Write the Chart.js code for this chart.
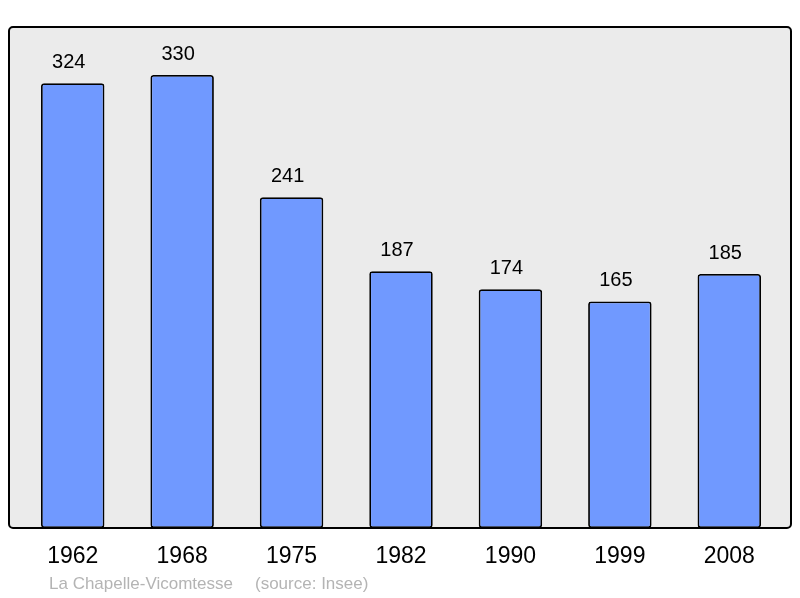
<!DOCTYPE html>
<html>
<head>
<meta charset="utf-8">
<script src="https://cdn.jsdelivr.net/npm/chart.js@4"></script>
<style>
  html, body { margin: 0; padding: 0; background: #fff; }
  canvas { display: block; }
</style>
</head>
<body>
<canvas id="chart" width="800" height="598"></canvas>
<script>
// données
const annees = ['1962', '1968', '1975', '1982', '1990', '1999', '2008'];
const population = [324, 330, 241, 187, 174, 165, 185];
const commune = 'La Chapelle-Vicomtesse';
const source = '(source: Insee)';

// fond gris + cadre, étiquettes
const cadrePlugin = {
    id: 'cadre',
    beforeDraw(chart) {
        const ctx = chart.ctx;
        const area = chart.chartArea;
        ctx.save();
        ctx.beginPath();
        ctx.roundRect(9, area.top, 782, area.bottom - area.top, 4);
        ctx.fillStyle = '#ebebeb';
        ctx.fill();
        ctx.restore();
    },
    afterDatasetsDraw(chart) {
        const ctx = chart.ctx;
        const area = chart.chartArea;
        ctx.save();
        ctx.beginPath();
        ctx.roundRect(9, area.top, 782, area.bottom - area.top, 4);
        ctx.lineWidth = 2;
        ctx.strokeStyle = '#000';
        ctx.stroke();

        // valeurs au-dessus des barres
        const meta = chart.getDatasetMeta(0);
        ctx.fillStyle = '#000';
        ctx.textAlign = 'center';
        ctx.textBaseline = 'middle';
        ctx.font = '20px "Liberation Sans", Arial, sans-serif';
        meta.data.forEach((bar, i) => {
            ctx.fillText(String(population[i]), bar.x - 4, bar.y - 21);
        });

        // années
        const xs = chart.scales.x;
        ctx.font = '23px "Liberation Sans", Arial, sans-serif';
        annees.forEach((a, i) => {
            ctx.fillText(a, xs.getPixelForValue(i), 557);
        });

        // source
        ctx.textAlign = 'left';
        ctx.fillStyle = '#b4b4b4';
        ctx.font = '17px "Liberation Sans", Arial, sans-serif';
        ctx.fillText(commune, 49, 584);
        ctx.fillText(source, 255, 584);
        ctx.restore();
    }
};

const ctx = document.getElementById('chart').getContext('2d');
new Chart(ctx, {
    type: 'bar',
    data: {
        labels: annees,
        datasets: [{
            data: population,
            backgroundColor: '#7099ff',
            borderColor: '#000',
            borderWidth: 1.8,
            borderRadius: 3,
            borderSkipped: false,
            barPercentage: 0.58,
            categoryPercentage: 1
        }]
    },
    options: {
        responsive: false,
        animation: false,
        layout: { padding: { left: 18, right: 16, top: 27, bottom: 70 } },
        plugins: { legend: { display: false }, tooltip: { enabled: false } },
        scales: {
            x: { display: false, offset: true },
            y: { display: false, min: 0, max: 365 }
        }
    },
    plugins: [cadrePlugin]
});
</script>
</body>
</html>
